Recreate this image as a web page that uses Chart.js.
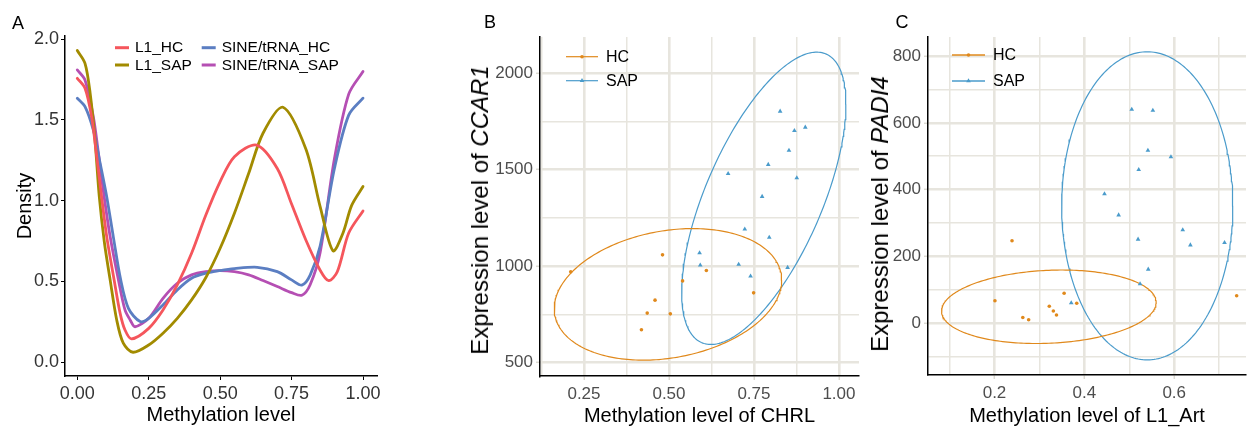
<!DOCTYPE html>
<html><head><meta charset="utf-8">
<script src="https://cdn.jsdelivr.net/npm/chart.js@4.4.1/dist/chart.umd.min.js"></script>
<style>
html,body{margin:0;padding:0;background:#fff;width:1250px;height:428px;overflow:hidden;font-family:"Liberation Sans",Arial,sans-serif;}
canvas{position:absolute;top:0;}
.lbl{position:absolute;font-size:18px;color:#000;transform:translate(-50%,-50%);}
.ytitle{position:absolute;font-size:24px;color:#000;white-space:nowrap;transform:translate(-50%,-50%) rotate(-90deg);}
</style></head><body>
<canvas id="cA" width="420" height="428" style="left:0px"></canvas>
<canvas id="cB" width="440" height="428" style="left:430px"></canvas>
<canvas id="cC" width="380" height="428" style="left:870px"></canvas>
<div class="lbl" style="left:18px;top:23px">A</div>
<div class="lbl" style="left:490px;top:22px">B</div>
<div class="lbl" style="left:902px;top:22px">C</div>
<div class="ytitle" style="left:480px;top:210px">Expression level of <i>CCAR1</i></div>
<div class="ytitle" style="left:880px;top:214px">Expression level of <i>PADI4</i></div>
<script>
// ================= DATA =================
// Panel A : density curves (methylation level -> density)
const densityNames = ['L1_HC', 'L1_SAP', 'SINE/tRNA_HC', 'SINE/tRNA_SAP'];
const l1HcX   = [0, 0.027, 0.05, 0.068, 0.085, 0.103, 0.129, 0.15, 0.167, 0.19, 0.25, 0.3, 0.35, 0.4, 0.45, 0.5, 0.55, 0.628, 0.7, 0.75, 0.8, 0.85, 0.88, 0.91, 0.95, 1.0];
const l1HcY   = [1.758, 1.697, 1.521, 1.273, 1.025, 0.778, 0.51, 0.303, 0.2, 0.145, 0.21, 0.324, 0.479, 0.675, 0.912, 1.119, 1.273, 1.345, 1.2, 0.98, 0.757, 0.57, 0.505, 0.56, 0.80, 0.937];
const l1SapX  = [0, 0.027, 0.045, 0.062, 0.077, 0.095, 0.115, 0.138, 0.161, 0.195, 0.25, 0.3, 0.35, 0.4, 0.45, 0.5, 0.55, 0.6, 0.65, 0.72, 0.8, 0.85, 0.895, 0.93, 0.96, 1.0];
const l1SapY  = [1.93, 1.851, 1.666, 1.376, 1.025, 0.74, 0.51, 0.262, 0.118, 0.062, 0.107, 0.18, 0.272, 0.386, 0.525, 0.706, 0.923, 1.17, 1.418, 1.579, 1.32, 0.964, 0.69, 0.80, 0.97, 1.088];
const sineHcX = [0, 0.027, 0.056, 0.08, 0.103, 0.126, 0.152, 0.179, 0.22, 0.25, 0.3, 0.35, 0.4, 0.45, 0.5, 0.55, 0.63, 0.7, 0.75, 0.786, 0.815, 0.85, 0.9, 0.95, 1.0];
const sineHcY = [1.635, 1.583, 1.438, 1.232, 1.025, 0.778, 0.51, 0.334, 0.252, 0.272, 0.355, 0.448, 0.52, 0.551, 0.568, 0.58, 0.588, 0.561, 0.51, 0.478, 0.54, 0.72, 1.2, 1.53, 1.635];
const sineSapX = [0, 0.027, 0.056, 0.074, 0.094, 0.115, 0.144, 0.167, 0.185, 0.202, 0.25, 0.3, 0.35, 0.4, 0.45, 0.5, 0.55, 0.6, 0.65, 0.7, 0.75, 0.786, 0.815, 0.85, 0.9, 0.95, 1.0];
const sineSapY = [1.81, 1.748, 1.521, 1.294, 1.025, 0.778, 0.51, 0.324, 0.262, 0.22, 0.272, 0.396, 0.489, 0.541, 0.561, 0.568, 0.561, 0.541, 0.506, 0.469, 0.431, 0.415, 0.48, 0.68, 1.26, 1.66, 1.80];
const densityXTicks = [0, 0.25, 0.5, 0.75, 1.0];
const densityYTicks = [0, 0.5, 1.0, 1.5, 2.0];

// Panel B : CHRL methylation vs CCAR1 expression
const groupNames = ['HC', 'SAP'];
const chrlHC   = [0.211, 0.481, 0.610, 0.540, 0.459, 0.436, 0.504, 0.419, 0.749];
const ccar1HC  = [971, 1059, 978, 924, 824, 757, 753, 671, 862];
const chrlSAP  = [0.827, 0.901, 0.869, 0.853, 0.792, 0.674, 0.876, 0.774, 0.723, 0.795, 0.590, 0.592, 0.705, 0.740, 0.849];
const ccar1SAP = [1803, 1720, 1703, 1600, 1527, 1480, 1458, 1361, 1192, 1149, 1069, 1005, 1009, 948, 993];
const chrlMajorTicks  = [0.25, 0.5, 0.75, 1.0];
const chrlMinorTicks  = [0.125, 0.375, 0.625, 0.875];
const ccar1MajorTicks = [500, 1000, 1500, 2000];
const ccar1MinorTicks = [750, 1250, 1750];
// confidence ellipses: [centerX, centerY, rightmostX, rightmostY, halfHeightY]
const ellipseB_HC  = [0.497, 854, 0.8315, 928, 341];
const ellipseB_SAP = [0.779, 1352, 1.0206, 1840, 757.5];

// Panel C : L1_Art methylation vs PADI4 expression
const l1ArtHC   = [0.239, 0.201, 0.263, 0.276, 0.322, 0.331, 0.338, 0.355, 0.383, 0.739];
const padi4HC   = [247, 67.6, 17.4, 10.8, 50.9, 36.8, 24.8, 89.8, 60.2, 82.6];
const l1ArtSAP  = [0.5055, 0.5525, 0.5415, 0.5927, 0.521, 0.4448, 0.4763, 0.619, 0.5196, 0.636, 0.712, 0.5422, 0.524, 0.3708];
const padi4SAP  = [640.4, 637.4, 517.7, 497.7, 459.7, 387, 324, 279.2, 251.4, 234.3, 241.2, 161.6, 117.6, 60.8];
const l1ArtMajorTicks = [0.2, 0.4, 0.6];
const l1ArtMinorTicks = [0.1, 0.3, 0.5, 0.7];
const padi4MajorTicks = [0, 200, 400, 600, 800];
const padi4MinorTicks = [-100, 100, 300, 500, 700];
const ellipseC_HC  = [0.321, 49.5, 0.5598, 62.5, 110];
const ellipseC_SAP = [0.540, 351.6, 0.7305, 351.6, 461];

// ================= STYLE / HELPERS =================
const FONT = '"Liberation Sans", Arial, Helvetica, sans-serif';
Chart.defaults.font.family = FONT;
Chart.defaults.animation = false;
const densityColors = ['#F5565C', '#A28B00', '#5B7EC2', '#B54FB3'];
const HC_COL = '#E0891C', SAP_COL = '#4A9BCB';
const GRID_COL = '#E7E5DE';

function xy(xs, ys) { return xs.map((x, i) => ({x: x, y: ys[i]})); }
function ellipsePts(e) {
  const [cx, cy, rx, ry, h] = e;
  const dx = rx - cx, dy = ry - cy;
  const k = Math.sqrt(Math.max(h * h - dy * dy, 0));
  const pts = [];
  for (let i = 0; i <= 240; i++) {
    const t = i / 240 * 2 * Math.PI;
    pts.push({x: cx + dx * Math.cos(t), y: cy + dy * Math.cos(t) + k * Math.sin(t)});
  }
  return pts;
}
function fixH(size) { return s => { s.height = size; s.paddingLeft = 0; s.paddingRight = 0; }; }
function fixW(size) { return s => { s.width = size; s.paddingTop = 0; s.paddingBottom = 0; }; }
function setTicks(arr) { return s => { s.ticks = arr.map(v => ({value: v})); }; }

// ================= PANEL A =================
const seriesA = [[l1HcX, l1HcY], [l1SapX, l1SapY], [sineHcX, sineHcY], [sineSapX, sineSapY]];
const legendA = {
  id: 'legendA',
  afterDraw(chart) {
    const {ctx, chartArea} = chart;
    const colX = [50, 136.7], rowY = [11.7, 29];
    const order = [[0, 0, 0], [1, 0, 1], [2, 1, 0], [3, 1, 1]];
    ctx.save();
    ctx.font = '15.5px ' + FONT;
    ctx.textBaseline = 'middle';
    order.forEach(([i, c, r]) => {
      const x = chartArea.left + colX[c], y = chartArea.top + rowY[r];
      ctx.strokeStyle = densityColors[i];
      ctx.lineWidth = 3;
      ctx.beginPath(); ctx.moveTo(x, y); ctx.lineTo(x + 14, y); ctx.stroke();
      ctx.fillStyle = '#000';
      ctx.fillText(densityNames[i], x + 20, y + 0.5);
    });
    ctx.restore();
  }
};
new Chart(document.getElementById('cA'), {
  type: 'line',
  data: {
    datasets: seriesA.map((s, i) => ({
      label: densityNames[i], data: xy(s[0], s[1]),
      borderColor: densityColors[i], borderWidth: 2.8, pointRadius: 0,
      tension: 0.3, fill: false, borderJoinStyle: 'round', borderCapStyle: 'round'
    }))
  },
  options: {
    responsive: false, devicePixelRatio: 1, animation: false,
    layout: {padding: {left: 0, right: 43, top: 36, bottom: 0}},
    plugins: {legend: {display: false}, tooltip: {enabled: false}},
    scales: {
      x: {
        type: 'linear', min: -0.043, max: 1.049,
        afterBuildTicks: setTicks(densityXTicks), afterFit: fixH(52),
        grid: {display: true, drawOnChartArea: false, drawTicks: true, tickLength: 4, tickColor: '#000', tickWidth: 1},
        border: {display: true, color: '#000', width: 1.5},
        ticks: {autoSkip: false, maxRotation: 0, padding: 3, color: '#333', font: {size: 18}, callback: v => v.toFixed(2)},
        title: {display: true, text: 'Methylation level', color: '#000', font: {size: 20}, padding: {top: 0, bottom: 1}}
      },
      y: {
        type: 'linear', min: -0.085, max: 2.02,
        afterBuildTicks: setTicks(densityYTicks), afterFit: fixW(65),
        grid: {display: true, drawOnChartArea: false, drawTicks: true, tickLength: 4, tickColor: '#000', tickWidth: 1},
        border: {display: true, color: '#000', width: 1.5},
        ticks: {autoSkip: false, padding: 2, color: '#333', font: {size: 18}, callback: v => v.toFixed(1)},
        title: {display: true, text: 'Density', color: '#000', font: {size: 20}, padding: {top: 13, bottom: 0}}
      }
    }
  },
  plugins: [legendA]
});

// ================= PANELS B / C =================
function scatterLegend(id, cfg) {
  return {
    id: id,
    afterDraw(chart) {
      const {ctx, chartArea} = chart;
      ctx.save();
      ctx.font = '16px ' + FONT;
      ctx.textBaseline = 'middle';
      cfg.items.forEach((it, i) => {
        const x0 = chartArea.left + cfg.x, y = chartArea.top + cfg.y[i];
        ctx.globalAlpha = cfg.alpha;
        ctx.strokeStyle = it.color; ctx.lineWidth = cfg.lw;
        ctx.beginPath(); ctx.moveTo(x0, y); ctx.lineTo(x0 + cfg.len, y); ctx.stroke();
        ctx.globalAlpha = 1;
        ctx.fillStyle = it.color;
        Chart.helpers.drawPoint(ctx, {pointStyle: it.style, radius: it.r, borderWidth: 0, rotation: 0}, x0 + cfg.len / 2, y);
        ctx.fillStyle = '#000';
        ctx.fillText(it.label, x0 + cfg.len + 8, y + 0.5);
      });
      ctx.restore();
    }
  };
}

function scatterChart(canvasId, o) {
  const majorX = new Set(o.xMajor), majorY = new Set(o.yMajor);
  const gridX = {
    display: true, drawOnChartArea: true, drawTicks: true, tickLength: 4,
    color: GRID_COL, lineWidth: c => majorX.has(c.tick.value) ? 2.6 : 1.5,
    tickColor: c => majorX.has(c.tick.value) ? '#DCDAD2' : 'rgba(0,0,0,0)', tickWidth: 1.5
  };
  const gridY = {
    display: true, drawOnChartArea: true, drawTicks: true, tickLength: 4,
    color: GRID_COL, lineWidth: c => majorY.has(c.tick.value) ? 2.6 : 1.5,
    tickColor: c => majorY.has(c.tick.value) ? '#DCDAD2' : 'rgba(0,0,0,0)', tickWidth: 1.5
  };
  return new Chart(document.getElementById(canvasId), {
    type: 'scatter',
    data: {
      datasets: [
        {label: groupNames[0], data: xy(o.hcX, o.hcY), pointStyle: 'circle', pointRadius: 1.8, pointBorderWidth: 0, backgroundColor: HC_COL, borderColor: HC_COL},
        {label: groupNames[1], data: xy(o.sapX, o.sapY), pointStyle: 'triangle', pointRadius: 2.7, pointBorderWidth: 0, backgroundColor: SAP_COL, borderColor: SAP_COL},
        {label: groupNames[0] + ' ellipse', data: ellipsePts(o.ellHC), showLine: true, pointRadius: 0, borderColor: HC_COL, borderWidth: 1.2, tension: 0, fill: false},
        {label: groupNames[1] + ' ellipse', data: ellipsePts(o.ellSAP), showLine: true, pointRadius: 0, borderColor: SAP_COL, borderWidth: 1.2, tension: 0, fill: false}
      ]
    },
    options: {
      responsive: false, devicePixelRatio: 1, animation: false,
      layout: {padding: o.padding},
      plugins: {legend: {display: false}, tooltip: {enabled: false}},
      scales: {
        x: {
          type: 'linear', min: o.xMin, max: o.xMax,
          afterBuildTicks: setTicks(o.xMinor.concat(o.xMajor).sort((a, b) => a - b)), afterFit: fixH(o.xH),
          grid: gridX, border: {display: true, color: '#000', width: 1.5},
          ticks: {autoSkip: false, maxRotation: 0, padding: 4, color: '#4D4D4D', font: {size: 17},
                  callback: v => majorX.has(v) ? v.toFixed(o.xDec) : ''},
          title: {display: true, text: o.xTitle, color: '#000', font: {size: 20}, padding: {top: 0, bottom: 0}}
        },
        y: {
          type: 'linear', min: o.yMin, max: o.yMax,
          afterBuildTicks: setTicks(o.yMinor.concat(o.yMajor).sort((a, b) => a - b)), afterFit: fixW(o.yW),
          grid: gridY, border: {display: true, color: '#000', width: 1.5},
          ticks: {autoSkip: false, padding: 3, color: '#4D4D4D', font: {size: 17},
                  callback: v => majorY.has(v) ? String(v) : ''}
        }
      }
    },
    plugins: [scatterLegend(canvasId + 'leg', o.legend)]
  });
}

scatterChart('cB', {
  hcX: chrlHC, hcY: ccar1HC, sapX: chrlSAP, sapY: ccar1SAP,
  ellHC: ellipseB_HC, ellSAP: ellipseB_SAP,
  xMajor: chrlMajorTicks, xMinor: chrlMinorTicks, yMajor: ccar1MajorTicks, yMinor: ccar1MinorTicks,
  xMin: 0.1206, xMax: 1.059, yMin: 431, yMax: 2188, xDec: 2,
  xTitle: 'Methylation level of CHRL',
  padding: {left: 0, right: 11, top: 37, bottom: 0}, xH: 52, yW: 110,
  legend: {x: 26, y: [19.7, 43.7], len: 32, lw: 1.2, alpha: 1,
           items: [{label: groupNames[0], color: HC_COL, style: 'circle', r: 1.8},
                   {label: groupNames[1], color: SAP_COL, style: 'triangle', r: 2.7}]}
});

scatterChart('cC', {
  hcX: l1ArtHC, hcY: padi4HC, sapX: l1ArtSAP, sapY: padi4SAP,
  ellHC: ellipseC_HC, ellSAP: ellipseC_SAP,
  xMajor: l1ArtMajorTicks, xMinor: l1ArtMinorTicks, yMajor: padi4MajorTicks, yMinor: padi4MinorTicks,
  xMin: 0.052, xMax: 0.7598, yMin: -154.7, yMax: 856.9, xDec: 1,
  xTitle: 'Methylation level of L1_Art',
  padding: {left: 0, right: 0, top: 37, bottom: 0}, xH: 53, yW: 58,
  legend: {x: 24, y: [18, 44], len: 33, lw: 2.2, alpha: 0.75,
           items: [{label: groupNames[0], color: HC_COL, style: 'circle', r: 1.8},
                   {label: groupNames[1], color: SAP_COL, style: 'triangle', r: 2.7}]}
});
</script>
</body></html>
